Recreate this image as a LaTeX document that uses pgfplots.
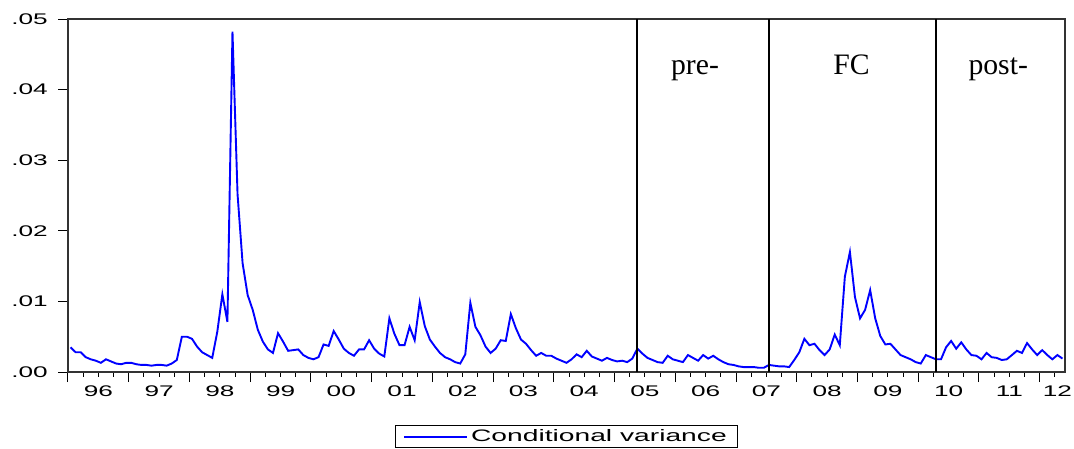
\documentclass[border=0pt]{standalone}
\usepackage{fontspec}
\setmainfont{Liberation Serif}
\newfontfamily\ticksans[FakeStretch=1.7]{Liberation Sans}
\usepackage{pgfplots}
\pgfplotsset{compat=1.18}
\usepackage{pgfplotstable}

\pgfplotstableread{
m v
0 0.0035
1 0.0028
2 0.0028
3 0.0021
4 0.0018
5 0.0016
6 0.0013
7 0.0018
8 0.0015
9 0.0012
10 0.0011
11 0.0013
12 0.0013
13 0.0011
14 0.0010
15 0.0010
16 0.0009
17 0.0010
18 0.0010
19 0.0009
20 0.0012
21 0.0017
22 0.0050
23 0.0050
24 0.0047
25 0.0036
26 0.0028
27 0.0024
28 0.0020
29 0.0057
30 0.0110
31 0.0071
32 0.0482
33 0.0252
34 0.0154
35 0.0109
36 0.0088
37 0.0060
38 0.0043
39 0.0032
40 0.0027
41 0.0055
42 0.0043
43 0.0030
44 0.0031
45 0.0032
46 0.0024
47 0.0020
48 0.0018
49 0.0021
50 0.0039
51 0.0037
52 0.0058
53 0.0046
54 0.0033
55 0.0027
56 0.0023
57 0.0032
58 0.0032
59 0.0045
60 0.0033
61 0.0026
62 0.0022
63 0.0076
64 0.0054
65 0.0038
66 0.0038
67 0.0064
68 0.0045
69 0.0099
70 0.0065
71 0.0046
72 0.0036
73 0.0027
74 0.0021
75 0.0018
76 0.0014
77 0.0012
78 0.0025
79 0.0098
80 0.0064
81 0.0052
82 0.0036
83 0.0027
84 0.0033
85 0.0045
86 0.0044
87 0.0082
88 0.0062
89 0.0046
90 0.0040
91 0.0031
92 0.0023
93 0.0027
94 0.0023
95 0.0023
96 0.0019
97 0.0016
98 0.0013
99 0.0018
100 0.0025
101 0.0021
102 0.0030
103 0.0022
104 0.0019
105 0.0016
106 0.0020
107 0.0017
108 0.0015
109 0.0016
110 0.0014
111 0.0019
112 0.0033
113 0.0026
114 0.0020
115 0.0017
116 0.0014
117 0.0013
118 0.0023
119 0.0018
120 0.0016
121 0.0014
122 0.0024
123 0.0020
124 0.0016
125 0.0024
126 0.0019
127 0.0023
128 0.0018
129 0.0014
130 0.0011
131 0.0010
132 0.0008
133 0.0007
134 0.0007
135 0.0007
136 0.0006
137 0.0006
138 0.0010
139 0.0009
140 0.0008
141 0.0008
142 0.0007
143 0.0017
144 0.0028
145 0.0047
146 0.0038
147 0.0040
148 0.0031
149 0.0024
150 0.0032
151 0.0053
152 0.0038
153 0.0135
154 0.0170
155 0.0106
156 0.0076
157 0.0088
158 0.0116
159 0.0076
160 0.0051
161 0.0039
162 0.0040
163 0.0032
164 0.0024
165 0.0021
166 0.0018
167 0.0014
168 0.0012
169 0.0024
170 0.0021
171 0.0018
172 0.0018
173 0.0035
174 0.0044
175 0.0033
176 0.0042
177 0.0032
178 0.0024
179 0.0023
180 0.0018
181 0.0027
182 0.0021
183 0.0020
184 0.0017
185 0.0018
186 0.0024
187 0.0030
188 0.0027
189 0.0041
190 0.0032
191 0.0024
192 0.0031
193 0.0024
194 0.0018
195 0.0024
196 0.0019
}\cvdata

\begin{document}
\begin{tikzpicture}[x=1pt,y=1pt]
\begin{axis}[
  at={(0,0)}, anchor=south west,
  scale only axis, width=997pt, height=353pt,
  xmin=-0.5, xmax=196.5, ymin=0, ymax=0.05,
  scaled y ticks=false,
  axis line style={black!80, line width=1.4pt},
  tick align=outside, tick pos=left,
  tick style={black, line width=1pt},
  major tick length=10pt, minor tick length=4.5pt,
  xtick={-0.5,11.5,...,191.5}, xticklabels={},
  minor xtick={2.5,5.5,8.5,14.5,17.5,20.5,26.5,29.5,32.5,38.5,41.5,44.5,50.5,53.5,56.5,62.5,65.5,68.5,74.5,77.5,80.5,86.5,89.5,92.5,98.5,101.5,104.5,110.5,113.5,116.5,122.5,125.5,128.5,134.5,137.5,140.5,146.5,149.5,152.5,158.5,161.5,164.5,170.5,173.5,176.5,182.5,185.5,188.5,194.5},
  extra x ticks={5.5,17.5,29.5,41.5,53.5,65.5,77.5,89.5,101.5,113.5,125.5,137.5,149.5,161.5,173.5,185.5,195},
  extra x tick labels={96,97,98,99,00,01,02,03,04,05,06,07,08,09,10,11,12},
  extra x tick style={/pgfplots/major tick length=0pt, xticklabel style={anchor=north, inner sep=0pt, yshift=-14pt}},
  ytick={0,0.01,0.02,0.03,0.04,0.05},
  yticklabels={.00,.01,.02,.03,.04,.05},
  yticklabel style={anchor=east, inner sep=0pt, xshift=-10pt},
  ticklabel style={font=\ticksans\fontsize{15.4}{16}\selectfont, text=black},
  legend style={at={(axis description cs:0.5,-0.150)}, anchor=north,
    draw=black, line width=1pt, inner xsep=8pt, inner ysep=1.5pt,
    font=\ticksans\fontsize{16.6}{18}\selectfont,
    nodes={inner sep=3pt}},
  legend image code/.code={\draw[#1, line width=1.2pt] (0pt,0pt) -- (55pt,0pt); \path (0pt,0pt) -- (63pt,0pt);},
]
\addplot[blue, line width=1.9pt] table[x=m, y=v] {\cvdata};
\addlegendentry{Conditional variance}
\draw[black, line width=1.8pt] (axis cs:112,0) -- (axis cs:112,0.05);
\draw[black, line width=1.8pt] (axis cs:138,0) -- (axis cs:138,0.05);
\draw[black, line width=1.8pt] (axis cs:171,0) -- (axis cs:171,0.05);
\node[anchor=base, font=\fontsize{29.7}{32}\selectfont] at (axis cs:123.4,0.0422) {pre-};
\node[anchor=base, font=\fontsize{29.7}{32}\selectfont] at (axis cs:154.3,0.0422) {FC};
\node[anchor=base, font=\fontsize{29.7}{32}\selectfont] at (axis cs:183.3,0.0422) {post-};
\end{axis}
\pgfresetboundingbox
\path[use as bounding box] (-68,-76) rectangle (1006,372);
\end{tikzpicture}
\end{document}
